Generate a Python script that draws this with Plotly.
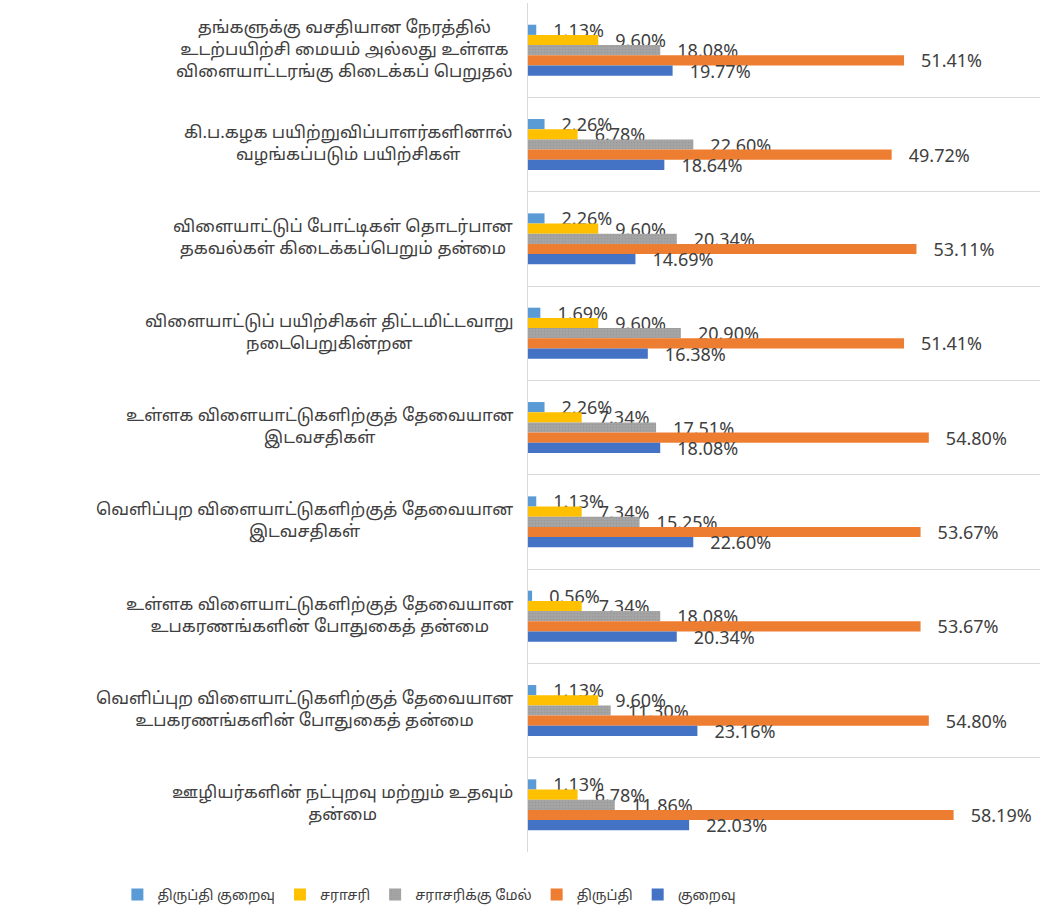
import plotly.graph_objects as go

categories = [
    "தங்களுக்கு வசதியான நேரத்தில்<br>உடற்பயிற்சி மையம் அல்லது உள்ளக<br>விளையாட்டரங்கு கிடைக்கப் பெறுதல்",
    "கி.ப.கழக பயிற்றுவிப்பாளர்களினால்<br>வழங்கப்படும் பயிற்சிகள்",
    "விளையாட்டுப் போட்டிகள் தொடர்பான<br>தகவல்கள் கிடைக்கப்பெறும் தன்மை",
    "விளையாட்டுப் பயிற்சிகள் திட்டமிட்டவாறு<br>நடைபெறுகின்றன",
    "உள்ளக விளையாட்டுகளிற்குத் தேவையான<br>இடவசதிகள்",
    "வெளிப்புற விளையாட்டுகளிற்குத் தேவையான<br>இடவசதிகள்",
    "உள்ளக விளையாட்டுகளிற்குத் தேவையான<br>உபகரணங்களின் போதுகைத் தன்மை",
    "வெளிப்புற விளையாட்டுகளிற்குத் தேவையான<br>உபகரணங்களின் போதுகைத் தன்மை",
    "ஊழியர்களின் நட்புறவு மற்றும் உதவும்<br>தன்மை",
]

series_names = ["திருப்தி குறைவு", "சராசரி", "சராசரிக்கு மேல்", "திருப்தி", "குறைவு"]

low_satisfaction = [1.13, 2.26, 2.26, 1.69, 2.26, 1.13, 0.56, 1.13, 1.13]
average = [9.60, 6.78, 9.60, 9.60, 7.34, 7.34, 7.34, 9.60, 6.78]
above_average = [18.08, 22.60, 20.34, 20.90, 17.51, 15.25, 18.08, 11.30, 11.86]
satisfied = [51.41, 49.72, 53.11, 51.41, 54.80, 53.67, 53.67, 54.80, 58.19]
low = [19.77, 18.64, 14.69, 16.38, 18.08, 22.60, 20.34, 23.16, 22.03]

series_values = [low_satisfaction, average, above_average, satisfied, low]
colors = ["#5B9BD5", "#FFC000", "#A5A5A5", "#ED7D31", "#4472C4"]

LABEL_FONT = "Noto Sans Tamil, Noto Sans, Lato, sans-serif"
NUM_FONT = "Noto Sans, Open Sans, sans-serif"

fig = go.Figure()
for name, vals, col in zip(series_names, series_values, colors):
    marker = dict(color=col, line=dict(width=0))
    if col == "#A5A5A5":
        marker["pattern"] = dict(shape=".", fgcolor="#8A8A8A", bgcolor="#A5A5A5", size=3, solidity=0.25)
    fig.add_trace(go.Bar(
        name=name,
        y=categories,
        x=vals,
        orientation="h",
        marker=marker,
        text=["\u00a0\u00a0\u00a0" + f"{v:.2f}%" for v in vals],
        textposition="outside",
        constraintext="none",
        cliponaxis=False,
        textfont=dict(family=NUM_FONT, size=18, color="#404040"),
    ))

for cat in categories:
    fig.add_annotation(
        x=0, xref="paper", xshift=-13, xanchor="right",
        y=cat, yref="y", yanchor="middle",
        text=cat, align="center", showarrow=False,
        font=dict(family=LABEL_FONT, size=17, color="#404040"),
    )

fig.update_layout(
    width=1041, height=917,
    barmode="group",
    bargap=0.46,
    bargroupgap=0,
    plot_bgcolor="white",
    paper_bgcolor="white",
    margin=dict(l=528, r=1, t=3, b=65, autoexpand=False),
    showlegend=True,
    legend=dict(
        orientation="h",
        x=-0.802, xanchor="left",
        y=-0.0506, yanchor="middle",
        font=dict(family=LABEL_FONT, size=14, color="#404040"),
        traceorder="normal",
        itemwidth=30,
    ),
    xaxis=dict(
        range=[0, 70],
        showticklabels=False,
        showgrid=False,
        zeroline=False,
        showline=False,
        ticks="",
    ),
    yaxis=dict(
        autorange="reversed",
        showticklabels=False,
        showgrid=True,
        gridcolor="#D9D9D9",
        gridwidth=1,
        tickson="boundaries",
        ticks="",
        showline=True,
        linecolor="#D9D9D9",
        linewidth=1,
        zeroline=False,
    ),
)

fig.write_html(
    "out.html",
    config={"displayModeBar": False},
    post_script="document.body.style.margin='0';document.body.style.overflow='hidden';",
)
